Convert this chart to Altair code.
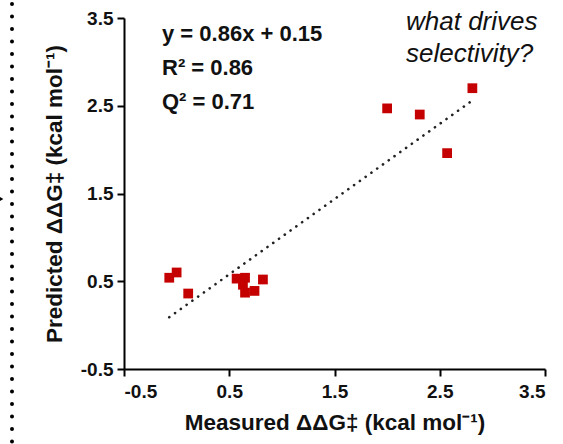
import altair as alt
import pandas as pd

# Data
measured = [-0.07, 0.00, 0.11, 0.57, 0.65, 0.63, 0.65, 0.74, 0.82, 2.00, 2.31, 2.57, 2.81]
predicted = [0.54, 0.60, 0.36, 0.53, 0.54, 0.46, 0.37, 0.39, 0.52, 2.47, 2.40, 1.96, 2.70]
fit_x = [-0.07, 2.81]
fit_y = [0.09, 2.56]
tick_values = [-0.5, 0.5, 1.5, 2.5, 3.5]
stats_lines = ["y = 0.86x + 0.15", "R\u00b2 = 0.86", "Q\u00b2 = 0.71"]
side_lines = ["what drives", "selectivity?"]

FONT = "Liberation Sans"

pts = pd.DataFrame({"measured": measured, "predicted": predicted})
fit = pd.DataFrame({"measured": fit_x, "predicted": fit_y})
one = pd.DataFrame({"k": [0]})

xscale = alt.Scale(domain=[-0.5, 3.5], nice=False, zero=False)
yscale = alt.Scale(domain=[-0.5, 3.5], nice=False, zero=False)

label_expr = "replace(datum.label, '\u2212', '-')"

xaxis = alt.Axis(values=tick_values, format=".1f", labelExpr=label_expr,
                 title="Measured \u0394\u0394G\u2021 (kcal mol\u207b\u00b9)",
                 labelPadding=6, titlePadding=10)
yaxis = alt.Axis(values=tick_values, format=".1f", labelExpr=label_expr,
                 title="Predicted \u0394\u0394G\u2021 (kcal mol\u207b\u00b9)",
                 labelPadding=4, titlePadding=14)

points = alt.Chart(pts).mark_square(size=95, color="#c40000", opacity=1).encode(
    x=alt.X("measured:Q", scale=xscale, axis=xaxis),
    y=alt.Y("predicted:Q", scale=yscale, axis=yaxis),
)

line = alt.Chart(fit).mark_line(color="#222222", strokeWidth=2.6, strokeDash=[0.1, 7], strokeCap="round").encode(
    x=alt.X("measured:Q", scale=xscale),
    y=alt.Y("predicted:Q", scale=yscale),
)

layers = [line, points]

for i, s in enumerate(stats_lines):
    layers.append(
        alt.Chart(one).mark_text(text=s, font=FONT, fontWeight="bold", fontSize=22, align="left",
                                 baseline="middle", color="#111111").encode(
            x=alt.value(38), y=alt.value(16 + 34 * i))
    )

for i, s in enumerate(side_lines):
    layers.append(
        alt.Chart(one).mark_text(text=s, font=FONT, fontStyle="italic", fontSize=26, align="left",
                                 baseline="middle", color="#111111").encode(
            x=alt.value(282), y=alt.value(4 + 32 * i))
    )

border = alt.Chart(one).mark_rule(color="black", strokeWidth=4, strokeDash=[0.1, 12.4], strokeCap="round").encode(
    x=alt.value(-112), y=alt.value(-14), y2=alt.value(430)
)
layers.append(border)

arrow_tip = alt.Chart(one).mark_point(shape="triangle-right", filled=True, color="black", size=60, opacity=1).encode(
    x=alt.value(-124), y=alt.value(181)
)
layers.append(arrow_tip)

chart = alt.layer(*layers).properties(
    width=421, height=351,
    background="white",
    autosize=alt.AutoSizeParams(type="none"),
    padding={"left": 124, "top": 18, "right": 18, "bottom": 75},
).configure_view(stroke=None).configure_axis(
    grid=False,
    domainColor="black", domainWidth=2,
    tickColor="black", tickWidth=2, tickSize=7,
    labelFont=FONT, labelFontWeight="bold", labelFontSize=19, labelColor="#111111",
    titleFont=FONT, titleFontWeight="bold", titleFontSize=22.5, titleColor="#111111",
)

chart.save("out.html", embed_options={"renderer": "svg", "actions": False})
